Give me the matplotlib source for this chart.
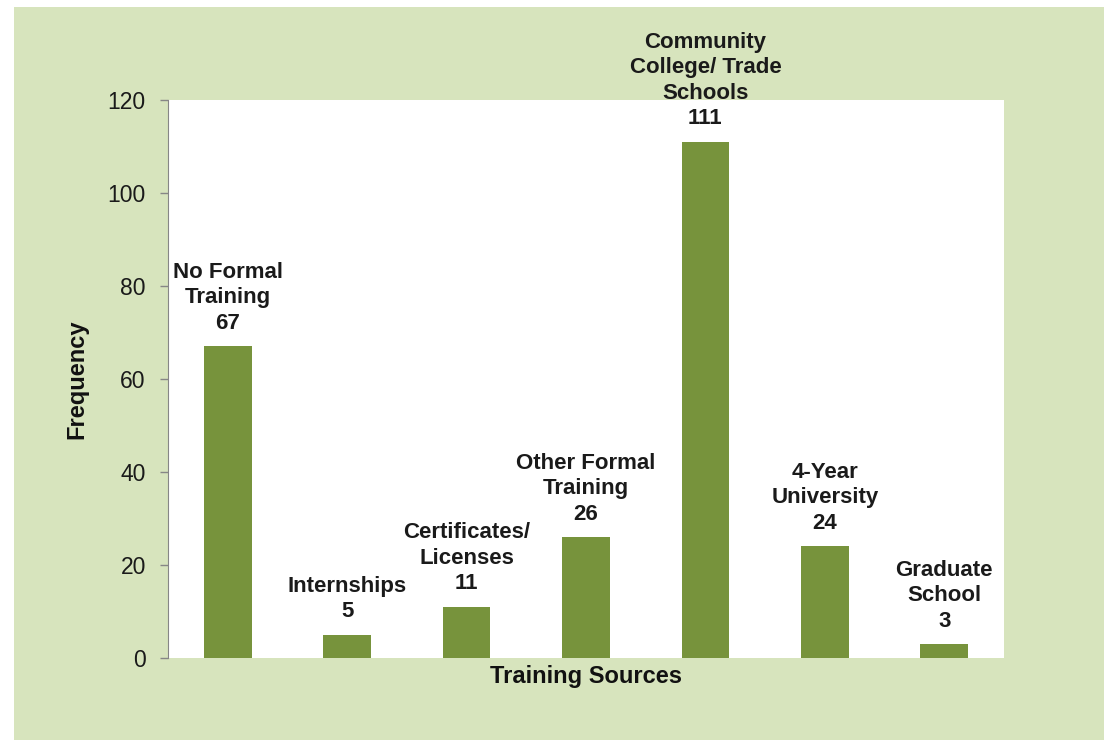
import matplotlib.pyplot as plt
from matplotlib.patches import Rectangle

# data
categories = ['No Formal\nTraining', 'Internships', 'Certificates/\nLicenses',
              'Other Formal\nTraining', 'Community\nCollege/ Trade\nSchools',
              '4-Year\nUniversity', 'Graduate\nSchool']
counts = [67, 5, 11, 26, 111, 24, 3]
y_ticks = [0, 20, 40, 60, 80, 100, 120]

bar_color = '#77933c'
panel_color = '#d7e4bd'

plt.rcParams['font.family'] = ['Liberation Sans', 'DejaVu Sans']

fig = plt.figure(figsize=(11.04, 7.40), dpi=100)
fig.patch.set_facecolor('white')

# green panel behind the chart
fig.patches.append(Rectangle((14 / 1104, 0), 1 - 14 / 1104, 1 - 7 / 740,
                             transform=fig.transFigure, facecolor=panel_color,
                             edgecolor='none', zorder=-10))

ax = fig.add_axes([168 / 1104, 1 - 658 / 740, (1004 - 168) / 1104, (658 - 100) / 740])
ax.set_facecolor('white')

x = range(len(counts))
ax.bar(x, counts, width=0.4, color=bar_color, zorder=2)

for i, (cat, v) in enumerate(zip(categories, counts)):
    ax.annotate(f'{cat}\n{v}', xy=(i, v), xytext=(0, 9), textcoords='offset points',
                ha='center', va='bottom', multialignment='center',
                fontsize=16, fontweight='bold', color='#1a1a1a',
                linespacing=1.28, annotation_clip=False)

ax.set_xlim(-0.5, len(counts) - 0.5)
ax.set_ylim(0, 120)
ax.set_yticks(y_ticks)
ax.set_xticks([])
ax.tick_params(axis='y', labelsize=16.5, labelcolor='#1a1a1a', color='#868686',
               length=6, width=1, pad=10)

for side in ['top', 'right', 'bottom']:
    ax.spines[side].set_visible(False)
ax.spines['left'].set_color('#868686')

ax.set_ylabel('Frequency', fontsize=17, fontweight='bold', color='#111111', labelpad=14)
ax.set_xlabel('Training Sources', fontsize=17, fontweight='bold', color='#111111', labelpad=5)

fig.savefig('out.png', dpi=100, facecolor=fig.get_facecolor())
